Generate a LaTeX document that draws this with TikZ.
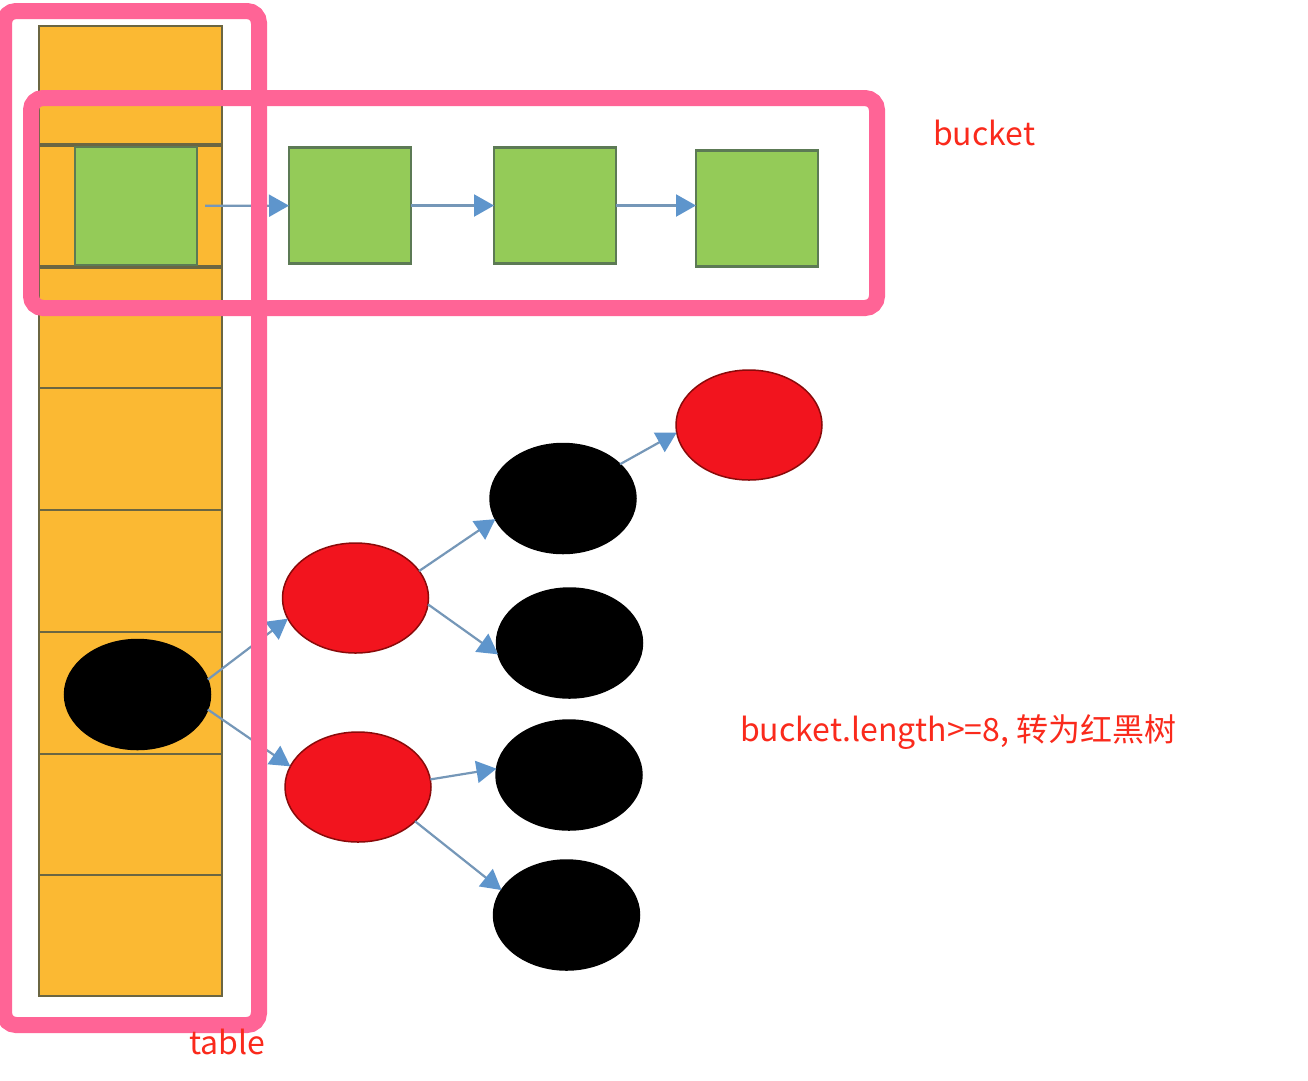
\documentclass[tikz,border=0pt]{standalone}
\usepackage{fontspec}
\newfontfamily\cjk{Noto Sans CJK SC}
\usetikzlibrary{shapes.geometric,arrows.meta}
\definecolor{tblorange}{HTML}{FBB933}
\definecolor{tblline}{HTML}{6B6642}
\definecolor{grn}{HTML}{94CB58}
\definecolor{grnline}{HTML}{5C7A55}
\definecolor{pinkbox}{HTML}{FF6496}
\definecolor{redfill}{HTML}{F2141E}
\definecolor{redline}{HTML}{8A0A0A}
\definecolor{arrline}{HTML}{7597B8}
\definecolor{arrtip}{HTML}{5E95CC}
\definecolor{txtred}{HTML}{FA2A1C}
\tikzset{
  cell/.style={rectangle, draw=tblline, fill=tblorange, line width=2.5pt, minimum width=183pt, inner sep=0pt, outer sep=0pt},
  sq/.style={rectangle, draw=grnline, fill=grn, line width=2.5pt, minimum width=122pt, minimum height=116pt, inner sep=0pt, outer sep=0pt},
  rb/.style={ellipse, minimum width=146pt, minimum height=110pt, inner sep=0pt, outer sep=0pt, line width=1.5pt},
  rednode/.style={rb, fill=redfill, draw=redline},
  blacknode/.style={rb, fill=black, draw=black},
  arr/.style={draw=arrline, line width=2.2pt, -{Triangle[length=20pt,width=22pt,fill=arrtip,color=arrtip]}},
  frame/.style={draw=pinkbox, line width=16pt, rounded corners=12pt},
  lbl/.style={text=txtred, font=\cjk\fontsize{32}{38}\selectfont, inner sep=0pt}
}
\begin{document}
\begin{tikzpicture}[x=1pt,y=-1pt]
\path[use as bounding box, fill=white] (0,0) rectangle (1308,1080);
% table cells
\foreach \a/\b [count=\i] in {26/145,145/267,267/388,388/510,510/632,632/754,754/875,875/996}{
  \node[cell, minimum height={(\b-\a)*1pt}] (c\i) at (130.5,{(\a+\b)/2}) {};
}
\draw[tblline, line width=4pt] (c2.north west) -- (c2.north east) (c2.south west) -- (c2.south east);
% bucket squares
\node[sq, minimum height=118pt] (g0) at (136,206) {};
\node[sq] (g1) at (350,205.5) {};
\node[sq] (g2) at (555,205.5) {};
\node[sq] (g3) at (757,208.5) {};
\draw[arr, shorten <=8pt] (g0) -- (g1);
\draw[arr] (g1) -- (g2);
\draw[arr] (g2.east) -- (g3.west |- g2.east);
% tree
\node[blacknode] (blk) at (137.5,694.5) {};
\node[rednode] (r1) at (355.5,598) {};
\node[rednode] (r2) at (358,787) {};
\node[blacknode] (bt) at (563,498.5) {};
\node[rednode] (rt) at (749,425) {};
\node[blacknode] (b2) at (569.5,643) {};
\node[blacknode] (b3) at (569,775) {};
\node[blacknode] (b4) at (566.5,915) {};
\draw[arr] (blk.12) -- (r1.197);
\draw[arr] (blk.-12) -- (r2.163);
\draw[arr] (r1.23) -- (bt.197);
\draw[arr] (r1.-5) -- (b2.189);
\draw[arr] (r2.6) -- (b3.175);
\draw[arr] (r2.-31) -- (b4.159);
\draw[arr] (bt.31) -- (rt.186);
% pink frames
\draw[frame] (4,11) rectangle (259,1025);
\draw[frame] (31,98) rectangle (877,308);
% labels
\node[lbl, anchor=west] (lbucket) at (933,133) {bucket};
\node[lbl, anchor=west] (lrule) at (740,732) {bucket.length>=8, 转为红黑树};
\node[lbl, anchor=west] (ltable) at (189,1042) {table};
\end{tikzpicture}
\end{document}
